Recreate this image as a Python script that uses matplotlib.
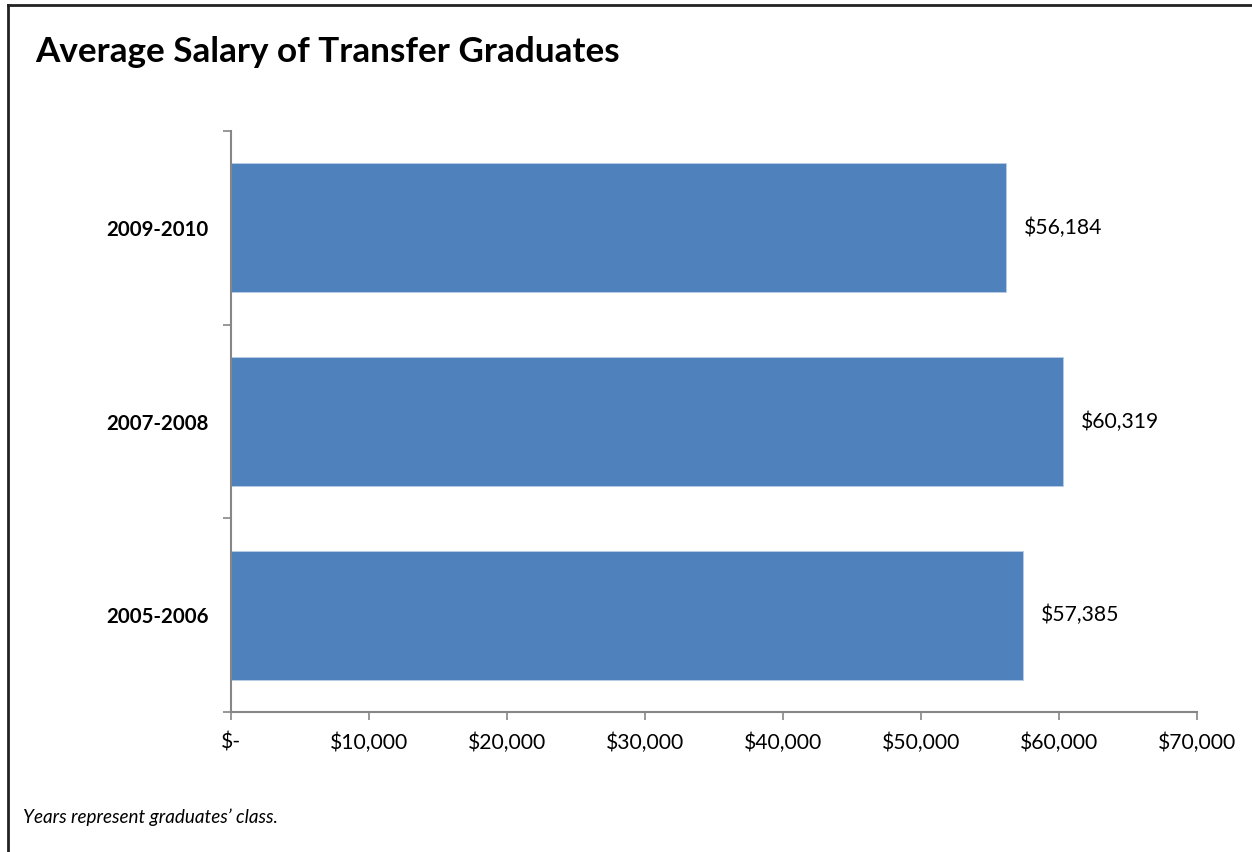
import matplotlib
matplotlib.use("Agg")
import matplotlib.pyplot as plt
from matplotlib.lines import Line2D

categories = ["2005-2006", "2007-2008", "2009-2010"]
salaries = [57385, 60319, 56184]
xticks = [0, 10000, 20000, 30000, 40000, 50000, 60000, 70000]
xtick_labels = ["$-", "$10,000", "$20,000", "$30,000", "$40,000", "$50,000", "$60,000", "$70,000"]

plt.rcParams['font.family'] = ['Lato', 'DejaVu Sans']

W, H = 1252, 852
fig = plt.figure(figsize=(W / 100, H / 100), dpi=100)
ax = fig.add_axes([231 / W, 1 - 712 / H, (1197 - 231) / W, (712 - 131) / H])

bar_color = "#4F81BD"
spine_color = "#868686"
ypos = list(range(len(categories)))
ax.barh(ypos, salaries, height=0.665, color=bar_color, edgecolor="#B9CDE5", linewidth=0.6)

for y, v in zip(ypos, salaries):
    ax.text(v + 1300, y, f"${v:,}", va="center", ha="left", fontsize=15.2, color="black")

ax.set_xlim(0, 70000)
ax.set_ylim(-0.5, len(categories) - 0.5)
ax.set_xticks(xticks)
ax.set_xticklabels(xtick_labels, fontsize=15.2)
ax.tick_params(axis="x", direction="out", length=6, width=1.2, color=spine_color, pad=9)

ax.set_yticks([-0.5, 0.5, 1.5, 2.5])
ax.set_yticklabels([])
ax.tick_params(axis="y", which="major", direction="out", length=6, width=1.2, color=spine_color)
ax.set_yticks(ypos, minor=True)
ax.set_yticklabels(categories, minor=True, fontsize=14.7, fontweight="bold")
ax.tick_params(axis="y", which="minor", length=0, pad=16)

for s in ["top", "right"]:
    ax.spines[s].set_visible(False)
for s in ["left", "bottom"]:
    ax.spines[s].set_color(spine_color)
    ax.spines[s].set_linewidth(1.5)

fig.text(35 / W, 1 - 52 / H, "Average Salary of Transfer Graduates", fontsize=25.3,
         fontweight="bold", ha="left", va="center")
fig.text(23 / W, 1 - 817 / H, "Years represent graduates\u2019 class.", fontsize=13.6,
         style="italic", ha="left", va="center")

# outer frame (top and left edges visible)
fig.add_artist(Line2D([8 / W, 1], [1 - 5 / H, 1 - 5 / H], transform=fig.transFigure, color="#222222", linewidth=2))
fig.add_artist(Line2D([8 / W, 8 / W], [0, 1 - 5 / H], transform=fig.transFigure, color="#222222", linewidth=2))

fig.savefig("out.png", dpi=100, facecolor="white")
